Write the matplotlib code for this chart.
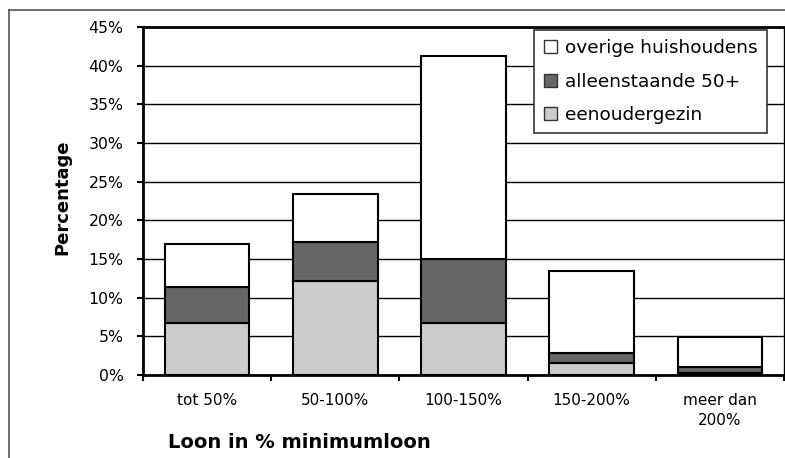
import matplotlib
matplotlib.use("Agg")
import matplotlib.pyplot as plt
from matplotlib.lines import Line2D
from matplotlib.patches import Patch
import numpy as np

plt.rcParams['font.family'] = ['DejaVu Sans']

categories = ["tot 50%", "50-100%", "100-150%", "150-200%", "meer dan\n200%"]
eenoudergezin = [6.7, 12.1, 6.7, 1.5, 0.2]
alleenstaande_50 = [4.7, 5.1, 8.3, 1.3, 0.8]
overige = [5.6, 6.2, 26.3, 10.6, 3.9]
yticks = [0, 5, 10, 15, 20, 25, 30, 35, 40, 45]

fig = plt.figure(figsize=(7.85, 4.58), dpi=100)
ax = fig.add_axes([143/785, 1-375/458, 641/785, 348/458])

x = np.arange(len(categories))
w = 0.66
e = np.array(eenoudergezin)
a = np.array(alleenstaande_50)
o = np.array(overige)
kw = dict(width=w, edgecolor='black', linewidth=1.5, zorder=3)
ax.bar(x, e, color='#cccccc', label='eenoudergezin', **kw)
ax.bar(x, a, bottom=e, color='#666666', label='alleenstaande 50+', **kw)
ax.bar(x, o, bottom=e + a, color='white', label='overige huishoudens', **kw)

ax.set_xlim(-0.5, 4.5)
ax.set_ylim(0, 45)
ax.set_yticks(yticks)
ax.set_yticklabels([f"{v}%" for v in yticks], fontsize=11.3)
ax.yaxis.grid(True, color='black', linewidth=1.0, zorder=0)
ax.set_axisbelow(True)

ax.set_xticks(np.arange(-0.5, 5.0, 1.0))
ax.set_xticklabels([])
ax.set_xticks(x, minor=True)
ax.set_xticklabels(categories, minor=True, fontsize=11, linespacing=1.45)
ax.tick_params(axis='x', which='minor', length=0, pad=13)
ax.tick_params(axis='x', which='major', direction='out', length=4, width=1.5)
ax.tick_params(axis='y', direction='out', length=4, width=1.5, pad=10)

for s in ['left', 'bottom', 'top']:
    ax.spines[s].set_linewidth(2)
    ax.spines[s].set_color('black')
ax.spines['right'].set_linewidth(1)

handles = [Patch(facecolor='white', edgecolor='#333333', label='overige huishoudens'),
           Patch(facecolor='#666666', edgecolor='#333333', label='alleenstaande 50+'),
           Patch(facecolor='#cccccc', edgecolor='#333333', label='eenoudergezin')]
leg = ax.legend(handles=handles, loc='upper right', bbox_to_anchor=(0.973, 0.991),
                fontsize=13.3, frameon=True, fancybox=False, framealpha=1,
                handlelength=0.7, handleheight=0.7, handletextpad=0.45,
                labelspacing=0.82, borderpad=0.5, borderaxespad=0)
leg.get_frame().set_edgecolor('#333333')
leg.get_frame().set_linewidth(1.2)
leg.set_zorder(5)

fig.text(168/785, 1-443/458, "Loon in % minimumloon", fontsize=14, fontweight='bold',
         ha='left', va='center')
fig.text(62/785, 1-197/458, "Percentage", fontsize=13, fontweight='bold',
         rotation=90, ha='center', va='center')

fig.add_artist(Line2D([9/785, 9/785], [0, 1-10/458], transform=fig.transFigure,
                      color='#555555', linewidth=1.2))
fig.add_artist(Line2D([9/785, 1], [1-10/458, 1-10/458], transform=fig.transFigure,
                      color='#555555', linewidth=1.2))

fig.savefig("out.png", dpi=100)
